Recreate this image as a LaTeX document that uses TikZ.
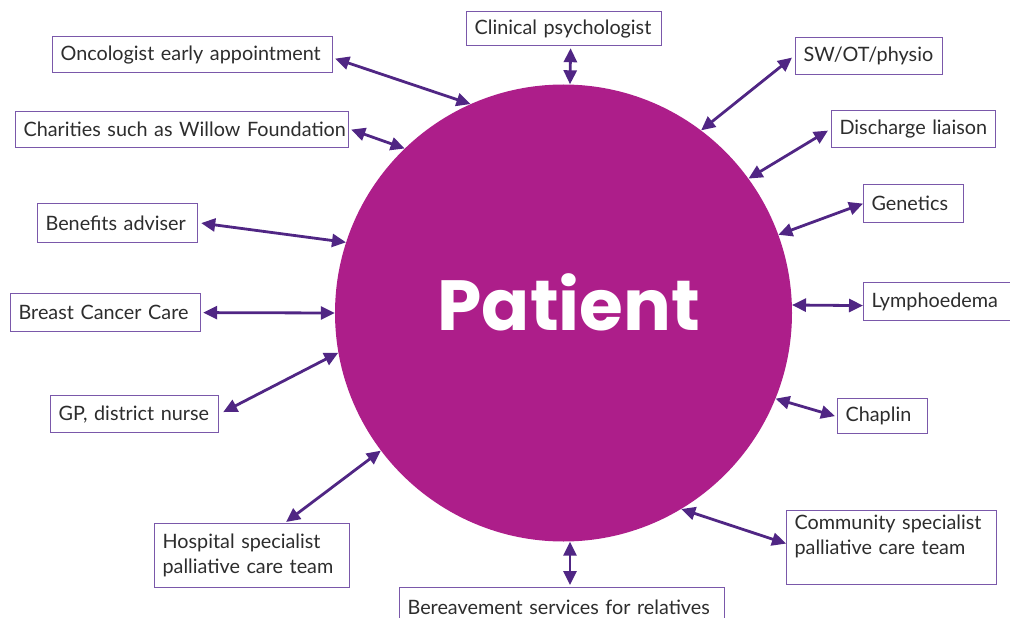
\documentclass[tikz,border=0pt]{standalone}
\usepackage{fontspec}
\setmainfont{Lato}
\newfontfamily\popfont{Poppins}
\usetikzlibrary{arrows.meta,calc}
\definecolor{mag}{RGB}{173,30,138}
\definecolor{arr}{RGB}{80,38,132}
\definecolor{bord}{RGB}{122,88,170}
\definecolor{txt}{RGB}{45,45,45}
\begin{document}
\begin{tikzpicture}[x=1pt,y=-1pt,
  box/.style={draw=bord, line width=1.2pt, fill=white, anchor=north west, inner xsep=8pt, inner ysep=0pt, align=left, text=txt, font=\fontsize{19.8}{25.5}\selectfont},
  link/.style={arr, line width=2.8pt, {Triangle[length=14pt,width=13pt]}-{Triangle[length=14pt,width=13pt]}}]
\useasboundingbox (0,0) rectangle (1010,618);
\node[circle, fill=mag, minimum size=457pt, inner sep=0pt, text=white, text depth=22pt, font=\popfont\bfseries\fontsize{71}{78}\selectfont] (patient) at (563.5,313) {\kern11pt Patient};

\node[box, text width=179pt, minimum height=34pt] (clin) at (466,11) {\mbox{Clinical psychologist}};
\node[box, text width=264pt, minimum height=36pt] (onc) at (52,36) {\mbox{Oncologist early appointment}};
\node[box, text width=317pt, minimum height=36pt] (char) at (15,111) {\mbox{Charities such as Willow Foundation}};
\node[box, text width=144pt, minimum height=39pt] (ben) at (37,203) {\mbox{Benefits adviser}};
\node[box, text width=174pt, minimum height=38pt] (bcc) at (10,293) {\mbox{Breast Cancer Care}};
\node[box, text width=152pt, minimum height=37pt] (gp) at (50,395) {\mbox{GP, district nurse}};
\node[box, text width=179pt, minimum height=64pt] (hosp) at (154,523) {Hospital specialist\\palliative care team};
\node[box, text width=309pt, minimum height=40pt] (ber) at (399,587) {\mbox{Bereavement services for relatives}};
\node[box, text width=194pt, minimum height=74pt] (comm) at (786,510) {Community specialist\\palliative care team\\~};
\node[box, text width=74pt, minimum height=35pt] (chap) at (837,398) {Chaplin};
\node[box, text width=144pt, minimum height=38pt] (lym) at (863,282) {\mbox{Lymphoedema}};
\node[box, text width=84pt, minimum height=38pt] (gen) at (863,184) {Genetics};
\node[box, text width=148pt, minimum height=37pt] (dis) at (831,110) {\mbox{Discharge liaison}};
\node[box, text width=131pt, minimum height=37pt] (sw) at (795,37) {\mbox{SW/OT/physio}};

\draw[link] ([shift={(6.5pt,-2pt)}]clin.south) -- ([xshift=6.5pt]patient.north);
\draw[link] ([shift={(2pt,-4pt)}]onc.east) -- (patient.114.7);
\draw[link] ([xshift=2pt]char.east) -- (patient.134.3);
\draw[link] ([xshift=3pt]ben.east) -- (patient.162.3);
\draw[link] ([xshift=2pt]bcc.east) -- (patient.west);
\draw[link] ([shift={(4pt,2pt)}]gp.east) -- (patient.190.3);
\draw[link] ([shift={(34pt,1pt)}]hosp.north) -- (patient.217.1);
\draw[link] ([xshift=6.5pt]patient.south) -- ([xshift=6.5pt,yshift=2pt]patient.south |- ber.north);
\draw[link] ([yshift=4pt]comm.west) -- (patient.301.8);
\draw[link] ([xshift=-2pt]chap.west) -- (patient.338.3);
\draw[link] ([yshift=-4pt]lym.west) -- ([xshift=-0.2pt,yshift=8pt]patient.east);
\draw[link] (gen.west) -- (patient.20);
\draw[link] ([shift={(-3pt,-1.5pt)}]dis.west) -- (patient.36.5);
\draw[link] ([shift={(-3pt,-1.5pt)}]sw.west) -- (patient.53.3);
\end{tikzpicture}
\end{document}
